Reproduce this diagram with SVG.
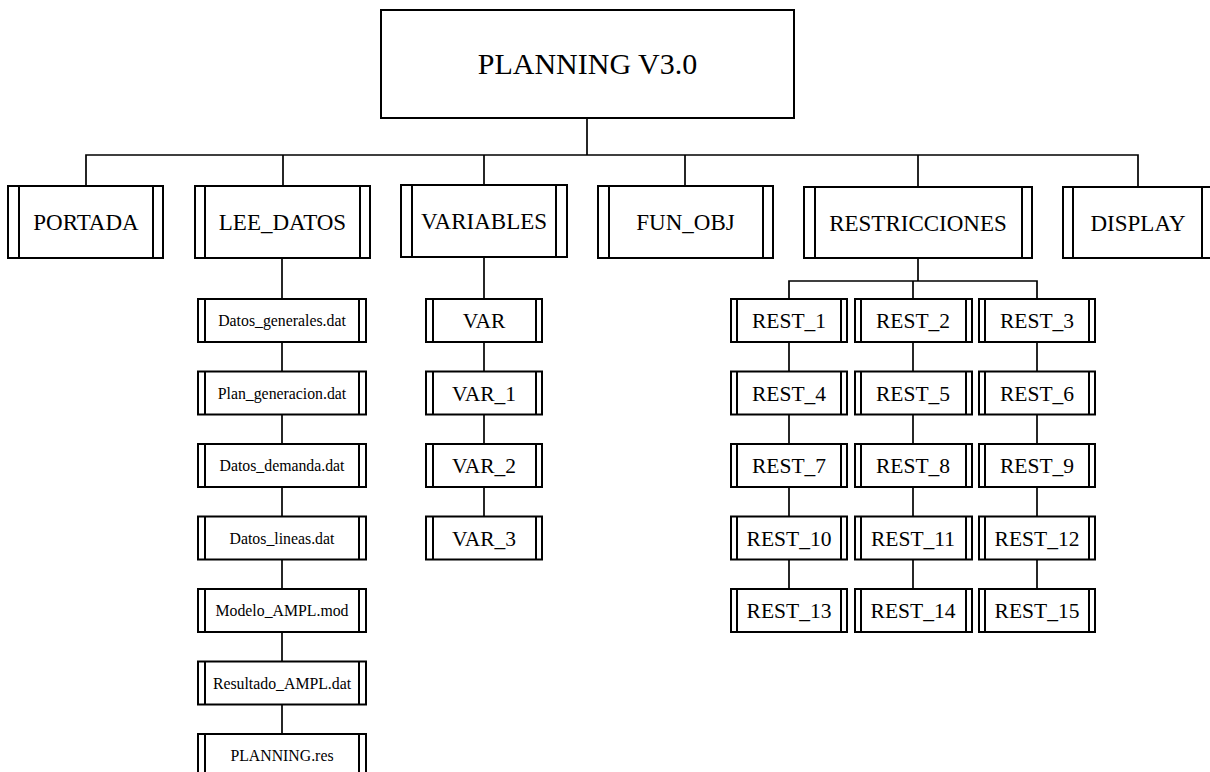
<svg xmlns="http://www.w3.org/2000/svg" width="1210" height="772" viewBox="0 0 1210 772">
  <style>
    .box { fill: #ffffff; stroke: #000000; stroke-width: 2; }
    .band { stroke: #000000; stroke-width: 2; }
    .wire { fill: none; stroke: #000000; stroke-width: 1.7; }
    text { font-family: "Liberation Serif", "Times New Roman", serif; fill: #000000; text-anchor: middle; }
    .title { font-size: 30px; }
    .l1 { font-size: 23px; }
    .file { font-size: 15.8px; }
    .sub { font-size: 21.5px; }
  </style>

  <!-- connectors -->
  <g id="connectors">
    <!-- root to first level -->
    <line class="wire" x1="587" y1="118" x2="587" y2="155"/>
    <polyline class="wire" points="86,186 86,155 1138,155 1138,187"/>
    <line class="wire" x1="283" y1="155" x2="283" y2="186"/>
    <line class="wire" x1="484" y1="155" x2="484" y2="186"/>
    <line class="wire" x1="685" y1="155" x2="685" y2="186"/>
    <line class="wire" x1="918" y1="155" x2="918" y2="186"/>
    <!-- LEE_DATOS chain -->
    <line class="wire" x1="282" y1="258" x2="282" y2="734"/>
    <!-- VARIABLES chain -->
    <line class="wire" x1="484" y1="258" x2="484" y2="517"/>
    <!-- RESTRICCIONES tree -->
    <line class="wire" x1="918" y1="258" x2="918" y2="281"/>
    <polyline class="wire" points="789,299 789,281 1037,281 1037,299"/>
    <line class="wire" x1="913" y1="281" x2="913" y2="299"/>
    <line class="wire" x1="789" y1="342" x2="789" y2="589"/>
    <line class="wire" x1="913" y1="342" x2="913" y2="589"/>
    <line class="wire" x1="1037" y1="342" x2="1037" y2="589"/>
  </g>

  <!-- root -->
  <g id="planning">
    <rect class="box" x="381" y="10" width="413" height="108"/>
    <text class="title" x="587.5" y="74">PLANNING V3.0</text>
  </g>

  <!-- first level -->
  <g id="portada">
    <rect class="box" x="8" y="186" width="155" height="72"/>
    <line class="band" x1="19" y1="186" x2="19" y2="258"/>
    <line class="band" x1="153" y1="186" x2="153" y2="258"/>
    <text class="l1" x="86" y="230">PORTADA</text>
  </g>
  <g id="lee_datos">
    <rect class="box" x="195" y="186" width="175" height="72"/>
    <line class="band" x1="205" y1="186" x2="205" y2="258"/>
    <line class="band" x1="360" y1="186" x2="360" y2="258"/>
    <text class="l1" x="282.5" y="230">LEE_DATOS</text>
  </g>
  <g id="variables">
    <rect class="box" x="401" y="185" width="166" height="72"/>
    <line class="band" x1="412" y1="185" x2="412" y2="257"/>
    <line class="band" x1="556" y1="185" x2="556" y2="257"/>
    <text class="l1" x="484" y="229">VARIABLES</text>
  </g>
  <g id="fun_obj">
    <rect class="box" x="598" y="186" width="175" height="72"/>
    <line class="band" x1="609" y1="186" x2="609" y2="258"/>
    <line class="band" x1="763" y1="186" x2="763" y2="258"/>
    <text class="l1" x="685.5" y="230">FUN_OBJ</text>
  </g>
  <g id="restricciones">
    <rect class="box" x="804" y="187" width="228" height="71"/>
    <line class="band" x1="815" y1="187" x2="815" y2="258"/>
    <line class="band" x1="1022" y1="187" x2="1022" y2="258"/>
    <text class="l1" x="918" y="231">RESTRICCIONES</text>
  </g>
  <g id="display">
    <rect class="box" x="1063" y="187" width="150" height="71"/>
    <line class="band" x1="1073" y1="187" x2="1073" y2="258"/>
    <line class="band" x1="1202" y1="187" x2="1202" y2="258"/>
    <text class="l1" x="1138" y="231">DISPLAY</text>
  </g>

  <!-- LEE_DATOS files -->
  <g id="datos_generales">
    <rect class="box" x="198" y="299" width="168" height="43"/>
    <line class="band" x1="205" y1="299" x2="205" y2="342"/>
    <line class="band" x1="359" y1="299" x2="359" y2="342"/>
    <text class="file" x="282" y="326">Datos_generales.dat</text>
  </g>
  <g id="plan_generacion">
    <rect class="box" x="198" y="371.5" width="168" height="43"/>
    <line class="band" x1="205" y1="371.5" x2="205" y2="414.5"/>
    <line class="band" x1="359" y1="371.5" x2="359" y2="414.5"/>
    <text class="file" x="282" y="398.5">Plan_generacion.dat</text>
  </g>
  <g id="datos_demanda">
    <rect class="box" x="198" y="444" width="168" height="43"/>
    <line class="band" x1="205" y1="444" x2="205" y2="487"/>
    <line class="band" x1="359" y1="444" x2="359" y2="487"/>
    <text class="file" x="282" y="471">Datos_demanda.dat</text>
  </g>
  <g id="datos_lineas">
    <rect class="box" x="198" y="516.5" width="168" height="43"/>
    <line class="band" x1="205" y1="516.5" x2="205" y2="559.5"/>
    <line class="band" x1="359" y1="516.5" x2="359" y2="559.5"/>
    <text class="file" x="282" y="543.5">Datos_lineas.dat</text>
  </g>
  <g id="modelo_ampl">
    <rect class="box" x="198" y="589" width="168" height="43"/>
    <line class="band" x1="205" y1="589" x2="205" y2="632"/>
    <line class="band" x1="359" y1="589" x2="359" y2="632"/>
    <text class="file" x="282" y="616">Modelo_AMPL.mod</text>
  </g>
  <g id="resultado_ampl">
    <rect class="box" x="198" y="661.5" width="168" height="43"/>
    <line class="band" x1="205" y1="661.5" x2="205" y2="704.5"/>
    <line class="band" x1="359" y1="661.5" x2="359" y2="704.5"/>
    <text class="file" x="282" y="688.5">Resultado_AMPL.dat</text>
  </g>
  <g id="planning_res">
    <rect class="box" x="198" y="734" width="168" height="43"/>
    <line class="band" x1="205" y1="734" x2="205" y2="777"/>
    <line class="band" x1="359" y1="734" x2="359" y2="777"/>
    <text class="file" x="282" y="761">PLANNING.res</text>
  </g>

  <!-- VARIABLES children -->
  <g id="var">
    <rect class="box" x="426" y="299" width="116" height="43"/>
    <line class="band" x1="433" y1="299" x2="433" y2="342"/>
    <line class="band" x1="536" y1="299" x2="536" y2="342"/>
    <text class="sub" x="484" y="328">VAR</text>
  </g>
  <g id="var_1">
    <rect class="box" x="426" y="371.5" width="116" height="43"/>
    <line class="band" x1="433" y1="371.5" x2="433" y2="414.5"/>
    <line class="band" x1="536" y1="371.5" x2="536" y2="414.5"/>
    <text class="sub" x="484" y="400.5">VAR_1</text>
  </g>
  <g id="var_2">
    <rect class="box" x="426" y="444" width="116" height="43"/>
    <line class="band" x1="433" y1="444" x2="433" y2="487"/>
    <line class="band" x1="536" y1="444" x2="536" y2="487"/>
    <text class="sub" x="484" y="473">VAR_2</text>
  </g>
  <g id="var_3">
    <rect class="box" x="426" y="516.5" width="116" height="43"/>
    <line class="band" x1="433" y1="516.5" x2="433" y2="559.5"/>
    <line class="band" x1="536" y1="516.5" x2="536" y2="559.5"/>
    <text class="sub" x="484" y="545.5">VAR_3</text>
  </g>

  <!-- RESTRICCIONES children: three columns -->
  <g id="rest_1">
    <rect class="box" x="731" y="299" width="116" height="43"/>
    <line class="band" x1="737" y1="299" x2="737" y2="342"/>
    <line class="band" x1="841" y1="299" x2="841" y2="342"/>
    <text class="sub" x="789" y="328">REST_1</text>
  </g>
  <g id="rest_2">
    <rect class="box" x="855" y="299" width="117" height="43"/>
    <line class="band" x1="861" y1="299" x2="861" y2="342"/>
    <line class="band" x1="966" y1="299" x2="966" y2="342"/>
    <text class="sub" x="913" y="328">REST_2</text>
  </g>
  <g id="rest_3">
    <rect class="box" x="979" y="299" width="116" height="43"/>
    <line class="band" x1="985" y1="299" x2="985" y2="342"/>
    <line class="band" x1="1089" y1="299" x2="1089" y2="342"/>
    <text class="sub" x="1037" y="328">REST_3</text>
  </g>

  <g id="rest_4">
    <rect class="box" x="731" y="371.5" width="116" height="43"/>
    <line class="band" x1="737" y1="371.5" x2="737" y2="414.5"/>
    <line class="band" x1="841" y1="371.5" x2="841" y2="414.5"/>
    <text class="sub" x="789" y="400.5">REST_4</text>
  </g>
  <g id="rest_5">
    <rect class="box" x="855" y="371.5" width="117" height="43"/>
    <line class="band" x1="861" y1="371.5" x2="861" y2="414.5"/>
    <line class="band" x1="966" y1="371.5" x2="966" y2="414.5"/>
    <text class="sub" x="913" y="400.5">REST_5</text>
  </g>
  <g id="rest_6">
    <rect class="box" x="979" y="371.5" width="116" height="43"/>
    <line class="band" x1="985" y1="371.5" x2="985" y2="414.5"/>
    <line class="band" x1="1089" y1="371.5" x2="1089" y2="414.5"/>
    <text class="sub" x="1037" y="400.5">REST_6</text>
  </g>

  <g id="rest_7">
    <rect class="box" x="731" y="444" width="116" height="43"/>
    <line class="band" x1="737" y1="444" x2="737" y2="487"/>
    <line class="band" x1="841" y1="444" x2="841" y2="487"/>
    <text class="sub" x="789" y="473">REST_7</text>
  </g>
  <g id="rest_8">
    <rect class="box" x="855" y="444" width="117" height="43"/>
    <line class="band" x1="861" y1="444" x2="861" y2="487"/>
    <line class="band" x1="966" y1="444" x2="966" y2="487"/>
    <text class="sub" x="913" y="473">REST_8</text>
  </g>
  <g id="rest_9">
    <rect class="box" x="979" y="444" width="116" height="43"/>
    <line class="band" x1="985" y1="444" x2="985" y2="487"/>
    <line class="band" x1="1089" y1="444" x2="1089" y2="487"/>
    <text class="sub" x="1037" y="473">REST_9</text>
  </g>

  <g id="rest_10">
    <rect class="box" x="731" y="516.5" width="116" height="43"/>
    <line class="band" x1="737" y1="516.5" x2="737" y2="559.5"/>
    <line class="band" x1="841" y1="516.5" x2="841" y2="559.5"/>
    <text class="sub" x="789" y="545.5">REST_10</text>
  </g>
  <g id="rest_11">
    <rect class="box" x="855" y="516.5" width="117" height="43"/>
    <line class="band" x1="861" y1="516.5" x2="861" y2="559.5"/>
    <line class="band" x1="966" y1="516.5" x2="966" y2="559.5"/>
    <text class="sub" x="913" y="545.5">REST_11</text>
  </g>
  <g id="rest_12">
    <rect class="box" x="979" y="516.5" width="116" height="43"/>
    <line class="band" x1="985" y1="516.5" x2="985" y2="559.5"/>
    <line class="band" x1="1089" y1="516.5" x2="1089" y2="559.5"/>
    <text class="sub" x="1037" y="545.5">REST_12</text>
  </g>

  <g id="rest_13">
    <rect class="box" x="731" y="589" width="116" height="43"/>
    <line class="band" x1="737" y1="589" x2="737" y2="632"/>
    <line class="band" x1="841" y1="589" x2="841" y2="632"/>
    <text class="sub" x="789" y="618">REST_13</text>
  </g>
  <g id="rest_14">
    <rect class="box" x="855" y="589" width="117" height="43"/>
    <line class="band" x1="861" y1="589" x2="861" y2="632"/>
    <line class="band" x1="966" y1="589" x2="966" y2="632"/>
    <text class="sub" x="913" y="618">REST_14</text>
  </g>
  <g id="rest_15">
    <rect class="box" x="979" y="589" width="116" height="43"/>
    <line class="band" x1="985" y1="589" x2="985" y2="632"/>
    <line class="band" x1="1089" y1="589" x2="1089" y2="632"/>
    <text class="sub" x="1037" y="618">REST_15</text>
  </g>
</svg>
